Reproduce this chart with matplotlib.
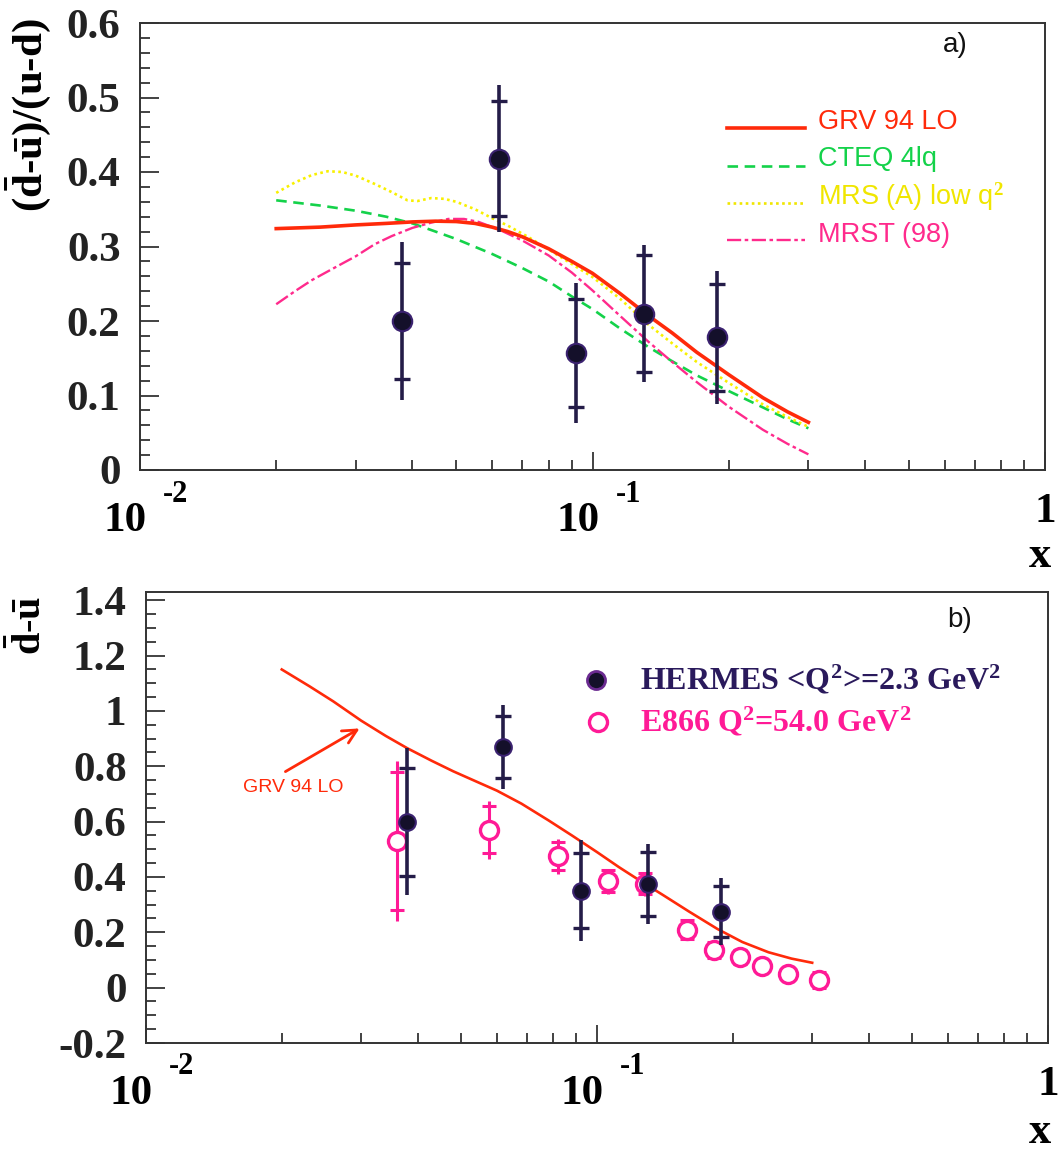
import matplotlib.pyplot as plt
from matplotlib.lines import Line2D

plt.rcParams['mathtext.fontset'] = 'custom'
plt.rcParams['mathtext.rm'] = 'Liberation Serif:bold'
plt.rcParams['mathtext.bf'] = 'Liberation Serif:bold'
plt.rcParams['mathtext.it'] = 'Liberation Serif:italic'

# HERMES points (same x bins in both panels)
hermes_x = [0.038, 0.062, 0.092, 0.130, 0.188]
ratio_val = [0.200, 0.418, 0.157, 0.210, 0.178]
ratio_stat = [0.078, 0.077, 0.072, 0.078, 0.072]
ratio_tot = [0.106, 0.099, 0.094, 0.092, 0.089]

dbar_val = [0.60, 0.87, 0.35, 0.375, 0.275]
dbar_stat = [0.195, 0.112, 0.135, 0.115, 0.093]
dbar_tot = [0.265, 0.152, 0.182, 0.145, 0.122]

# E866 Drell-Yan points
e866_x = [0.036, 0.0575, 0.082, 0.106, 0.128, 0.158, 0.182, 0.208, 0.232, 0.265, 0.31]
e866_val = [0.53, 0.57, 0.475, 0.385, 0.375, 0.21, 0.135, 0.112, 0.08, 0.048, 0.028]
e866_stat = [0.25, 0.085, 0.05, 0.04, 0.038, 0.034, 0.029, 0.025, 0.02, 0.015, 0.03]
e866_tot = [0.29, 0.105, 0.063, 0.045, 0.042, 0.038, 0.032, 0.028, 0.022, 0.017, 0.035]

# parametrisations, (dbar-ubar)/(u-d)
grv_x = [0.02, 0.025, 0.03, 0.035, 0.04, 0.045, 0.05, 0.055, 0.06, 0.065, 0.07, 0.08, 0.09, 0.1,
         0.115, 0.133, 0.15, 0.17, 0.2, 0.238, 0.27, 0.3]
grv_y = [0.324, 0.326, 0.329, 0.331, 0.333, 0.334, 0.3335, 0.331, 0.326, 0.320, 0.313, 0.297, 0.280, 0.264,
         0.237, 0.207, 0.184, 0.158, 0.128, 0.097, 0.078, 0.064]

cteq_x = [0.02, 0.025, 0.03, 0.035, 0.04, 0.045, 0.05, 0.06, 0.07, 0.08, 0.09, 0.1,
          0.115, 0.133, 0.15, 0.17, 0.2, 0.238, 0.27, 0.3]
cteq_y = [0.362, 0.355, 0.348, 0.340, 0.331, 0.320, 0.310, 0.290, 0.271, 0.253, 0.233, 0.216,
          0.190, 0.165, 0.146, 0.127, 0.106, 0.084, 0.068, 0.056]

mrs_x = [0.02, 0.022, 0.024, 0.026, 0.028, 0.03, 0.033, 0.036, 0.039, 0.041, 0.044, 0.047, 0.05, 0.055,
         0.06, 0.065, 0.072, 0.085, 0.1, 0.115, 0.133, 0.15, 0.17, 0.2, 0.238, 0.27, 0.3]
mrs_y = [0.372, 0.386, 0.396, 0.401, 0.400, 0.395, 0.384, 0.373, 0.362, 0.361, 0.365, 0.364, 0.360, 0.350,
         0.338, 0.328, 0.313, 0.286, 0.259, 0.230, 0.195, 0.170, 0.145, 0.117, 0.088, 0.071, 0.058]

mrst_x = [0.02, 0.022, 0.024, 0.027, 0.03, 0.033, 0.036, 0.04, 0.044, 0.048, 0.052, 0.056, 0.062, 0.07,
          0.08, 0.09, 0.1, 0.115, 0.133, 0.15, 0.17, 0.2, 0.238, 0.27, 0.3]
mrst_y = [0.2225, 0.240, 0.255, 0.272, 0.287, 0.303, 0.314, 0.325, 0.332, 0.337, 0.337, 0.333, 0.323, 0.308,
          0.288, 0.265, 0.241, 0.207, 0.172, 0.145, 0.118, 0.085, 0.054, 0.035, 0.021]

# GRV 94 LO, dbar-ubar
grvb_x = [0.02, 0.023, 0.026, 0.03, 0.034, 0.038, 0.043, 0.048, 0.054, 0.06, 0.068, 0.078, 0.088, 0.1,
          0.112, 0.125, 0.14, 0.16, 0.185, 0.21, 0.24, 0.27, 0.3]
grvb_y = [1.15, 1.09, 1.035, 0.965, 0.91, 0.865, 0.82, 0.782, 0.745, 0.712, 0.665, 0.605, 0.55, 0.49,
          0.435, 0.385, 0.335, 0.275, 0.212, 0.165, 0.128, 0.105, 0.09]

W, H = 1062, 1156
SERIF = 'Liberation Serif'
SANS = 'Liberation Sans'
NAVY = '#241c48'
PINK = '#ff1a96'
RED = '#ff2a0a'
PX = 0.72  # points per pixel at 100 dpi


def box(l, t, r, b):
    return [l / W, 1 - b / H, (r - l) / W, (b - t) / H]


def fx(px):
    return px / W


def fy(py):
    return 1 - py / H


def style_axis(ax, yticks, ylabels, yminor, ylim):
    ax.set_xscale('log')
    ax.set_xlim(0.01, 1)
    ax.set_ylim(*ylim)
    ax.set_xticks([0.01, 0.1, 1])
    ax.set_xticklabels([])
    ax.set_xticks([m * d for d in (0.01, 0.1) for m in range(2, 10)], minor=True)
    ax.set_xticklabels([], minor=True)
    ax.set_yticks(yticks)
    ax.set_yticklabels(ylabels, fontfamily=SERIF, fontweight='bold')
    ax.set_yticks(yminor, minor=True)
    ax.tick_params(which='both', direction='in', top=False, right=False, colors='#222222')
    ax.tick_params(axis='y', which='major', length=14, width=1.2, pad=14, labelsize=31)
    ax.tick_params(axis='y', which='minor', length=7, width=1.2)
    ax.tick_params(axis='x', which='major', length=13, width=1.2)
    ax.tick_params(axis='x', which='minor', length=7, width=1.2)
    for s in ax.spines.values():
        s.set_linewidth(1.4)
        s.set_color('#333333')

    # PAW style decade labels: "10" with a raised exponent
    kw = dict(xycoords=('data', 'axes fraction'), textcoords='offset points', va='center',
              family=SERIF, fontweight='bold')
    for t, e in ((0.01, '-2'), (0.1, '-1')):
        ax.annotate('10', xy=(t, 0), xytext=(7 * PX, -51 * PX), ha='right', fontsize=31, **kw)
        ax.annotate(e, xy=(t, 0), xytext=(23 * PX, -24 * PX), ha='left', fontsize=22, **kw)
    ax.annotate('1', xy=(1, 0), xytext=(0, -42 * PX), ha='center', fontsize=31, **kw)


def hermes(ax, y, stat, tot, ms):
    ax.errorbar(hermes_x, y, yerr=tot, fmt='none', ecolor=NAVY, elinewidth=2.6, capsize=0, zorder=5)
    ax.errorbar(hermes_x, y, yerr=stat, fmt='none', ecolor=NAVY, elinewidth=0, capsize=5.5,
                capthick=2.4, zorder=5)
    ax.plot(hermes_x, y, 'o', ms=ms, mfc='#14102a', mec='#3b2270', mew=1.5, zorder=6)


fig = plt.figure(figsize=(W / 100, H / 100), dpi=100)

# ---- panel a: ratio ----
ax_a = fig.add_axes(box(140, 23, 1045, 470))
style_axis(ax_a, [0, 0.1, 0.2, 0.3, 0.4, 0.5, 0.6],
           ['0', '0.1', '0.2', '0.3', '0.4', '0.5', '0.6'],
           [i * 0.02 for i in range(31)], (0, 0.6))

ax_a.plot(grv_x, grv_y, color=RED, lw=2.6, zorder=4)
ax_a.plot(cteq_x, cteq_y, color='#14d24a', lw=1.9, ls=(0, (4, 2.5)), zorder=3)
ax_a.plot(mrs_x, mrs_y, color='#f8f000', lw=1.9, ls=(0, (1, 1.3)), zorder=3)
ax_a.plot(mrst_x, mrst_y, color='#ff2a8c', lw=1.7, ls=(0, (6, 1.5, 1.5, 1.5)), zorder=3)
hermes(ax_a, ratio_val, ratio_stat, ratio_tot, 14)

# legend of panel a
leg = [('GRV 94 LO', RED, '-', 2.6),
       ('CTEQ 4lq', '#14d24a', (0, (4, 2.5)), 1.9),
       (r'MRS (A) low q$^2$', '#f0e600', (0, (1, 1.3)), 1.9),
       ('MRST (98)', '#ff2a8c', (0, (6, 1.5, 1.5, 1.5)), 1.7)]
for i, (lab, col, ls, lw) in enumerate(leg):
    yy = 128 + 37.5 * i
    fig.add_artist(Line2D([fx(727), fx(805)], [fy(yy), fy(yy)], color=col, ls=ls, lw=lw))
    fig.text(fx(818), fy(yy - 6), lab, color=col, fontsize=19.5, family=SANS, va='center', ha='left')
fig.text(fx(955), fy(45), 'a)', fontsize=20, family=SANS, va='center', ha='center', color='#111111')

fig.text(fx(28), fy(18), r'$\mathbf{(\bar{d}\text{-}\bar{u})/(u\text{-}d)}$', rotation=90,
         ha='center', va='top', fontsize=31)
fig.text(fx(1040), fy(556), 'x', fontsize=32, family=SERIF, fontweight='bold', ha='center', va='center')

# ---- panel b: dbar - ubar ----
ax_b = fig.add_axes(box(146, 592, 1048, 1043))
style_axis(ax_b, [-0.2, 0, 0.2, 0.4, 0.6, 0.8, 1.0, 1.2, 1.4],
           ['-0.2', '0', '0.2', '0.4', '0.6', '0.8', '1', '1.2', '1.4'],
           [-0.2 + i * 0.05 for i in range(33)], (-0.2, 1.43))

ax_b.plot(grvb_x, grvb_y, color=RED, lw=1.9, zorder=4)
ax_b.errorbar(e866_x, e866_val, yerr=e866_tot, fmt='none', ecolor=PINK, elinewidth=2.2, capsize=0, zorder=3)
ax_b.errorbar(e866_x, e866_val, yerr=e866_stat, fmt='none', ecolor=PINK, elinewidth=0, capsize=5,
              capthick=2.2, zorder=3)
ax_b.plot(e866_x, e866_val, 'o', ms=13, mfc='white', mec=PINK, mew=2.4, zorder=4)
hermes(ax_b, dbar_val, dbar_stat, dbar_tot, 12)

# legend of panel b
fig.add_artist(Line2D([fx(596)], [fy(680)], marker='o', ms=13, mfc='#14102a', mec='#6a2a90', mew=2))
fig.text(fx(640), fy(680), r'HERMES <Q$^{2}$>=2.3 GeV$^{2}$', color='#2a1a5c',
         fontsize=23, family=SERIF, fontweight='bold', va='center', ha='left')
fig.add_artist(Line2D([fx(598)], [fy(722)], marker='o', ms=13, mfc='white', mec=PINK, mew=2.4))
fig.text(fx(640), fy(722), r'E866 Q$^{2}$=54.0 GeV$^{2}$', color=PINK,
         fontsize=23, family=SERIF, fontweight='bold', va='center', ha='left')
fig.text(fx(960), fy(620), 'b)', fontsize=20, family=SANS, va='center', ha='center', color='#111111')

fig.text(fx(293), fy(788), 'GRV 94 LO', color=RED, fontsize=14, family=SANS, va='center', ha='center')
fig.add_artist(plt.Annotation('', xy=(fx(362), fy(727)), xytext=(fx(283), fy(773)),
                              xycoords='figure fraction', textcoords='figure fraction',
                              arrowprops=dict(arrowstyle='->,head_length=1.0,head_width=0.5',
                                              color=RED, lw=2)))

fig.text(fx(30), fy(596), r'$\mathbf{\bar{d}\text{-}\bar{u}}$', rotation=90, ha='center', va='top',
         fontsize=29)
fig.text(fx(1040), fy(1132), 'x', fontsize=32, family=SERIF, fontweight='bold', ha='center', va='center')

fig.savefig('out.png', dpi=100, facecolor='white')
